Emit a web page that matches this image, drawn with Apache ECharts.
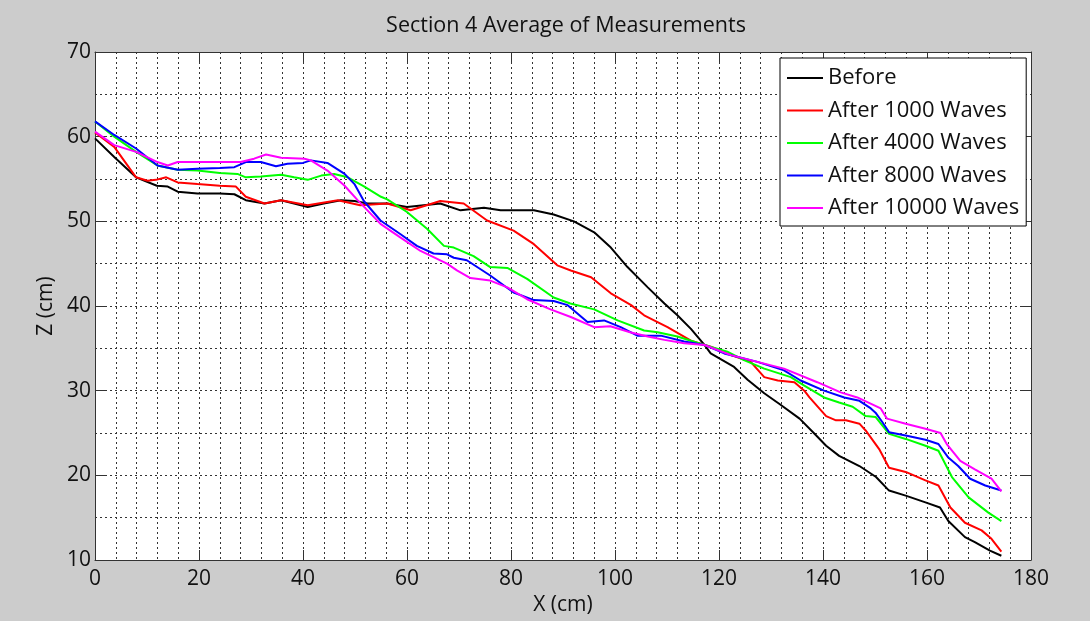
<!DOCTYPE html>
<html>
<head>
<meta charset="utf-8">
<script src="https://cdn.jsdelivr.net/npm/echarts@6/dist/echarts.min.js"></script>
<style>
html,body{margin:0;padding:0;background:#cccccc;}
#chart{width:1090px;height:621px;}
</style>
</head>
<body>
<div id="chart"></div>
<script>
// ---- data ----
var titleText = 'Section 4 Average of Measurements';
var seriesNames = ['Before', 'After 1000 Waves', 'After 4000 Waves', 'After 8000 Waves', 'After 10000 Waves'];
var seriesColors = ['#000000', '#ff0000', '#00ff00', '#0000ff', '#ff00ff'];
var xAxisName = 'X (cm)';
var yAxisName = 'Z (cm)';

var before = [[0,59.8],[3.7,57.6],[7.9,55.2],[11.9,54.2],[14,54.1],[15.9,53.5],[19.7,53.3],[24,53.3],[26.8,53.2],[29,52.5],[32.6,52.1],[35.8,52.5],[38.3,52.1],[40.9,51.7],[44,52.1],[47.3,52.5],[49.9,52.4],[52.4,52.1],[56.2,52.1],[60,51.7],[66.4,52.1],[70.3,51.3],[74.8,51.6],[78,51.3],[84.4,51.3],[88.2,50.8],[92.1,50.0],[96,48.7],[99.2,46.9],[102.4,44.6],[106.3,42.2],[109.5,40.3],[112,38.9],[114.6,37.3],[117.2,35.4],[118.4,34.4],[122.9,32.8],[125.5,31.3],[128.7,29.7],[131.7,28.4],[135.5,26.7],[138.7,24.7],[140.6,23.5],[143.1,22.3],[147,21.1],[150.2,19.8],[152.7,18.2],[155.9,17.6],[159.7,16.8],[162.5,16.2],[164.1,14.6],[167.3,12.7],[169.2,12.1],[172.1,11.1],[174.3,10.5]];

var after1000 = [[0,60.5],[3.7,58.8],[7.9,55.2],[10.1,54.8],[11.7,54.9],[13.7,55.2],[15.9,54.6],[19.7,54.4],[24,54.2],[27.1,54.1],[29,52.9],[32.6,52.1],[35.8,52.5],[40.9,51.9],[46.7,52.5],[51,51.9],[56.2,52.1],[60.7,51.3],[66.4,52.4],[70.9,52.1],[75.4,50.1],[80.5,48.9],[84.4,47.3],[88.9,44.8],[91.5,44.2],[95.4,43.4],[99.2,41.5],[103.1,40.1],[105.6,38.9],[110.1,37.5],[114.6,35.9],[118.4,35.2],[122.3,34.2],[126.1,33.4],[128.7,31.6],[131.3,31.2],[134.5,31.0],[136.4,30.0],[137.4,29.2],[140.6,27.0],[142.5,26.5],[144.4,26.5],[147,26.1],[148.2,25.3],[150.8,23.1],[152.7,20.9],[155.9,20.4],[159.7,19.4],[162.2,18.8],[164.5,16.2],[167.3,14.4],[170.5,13.5],[172.4,12.5],[174.3,11.0]];

var after4000 = [[0,61.8],[3.7,60],[7.9,58.2],[12,56.6],[15.9,56.1],[19.7,56.0],[24,55.7],[27.4,55.6],[29,55.2],[31.9,55.3],[35.8,55.5],[38.3,55.2],[40.9,54.9],[43.5,55.4],[46,55.6],[48.6,55.2],[51.8,54.1],[55,52.9],[56.2,52.6],[60,51.1],[63.9,49.1],[67.1,47.1],[69,46.9],[72.8,45.9],[76,44.6],[79.3,44.5],[83.1,43.2],[88.2,41.0],[91.4,40.3],[96,39.6],[100.5,38.3],[105.6,37.1],[108.2,36.9],[112,36.4],[117.2,35.4],[121.6,34.6],[124.8,33.6],[128.7,32.6],[133.8,31.6],[136.4,30.6],[140.2,29.2],[143.1,28.6],[145.7,28.1],[148.2,27.0],[150.1,26.9],[152.7,24.9],[155.9,24.3],[159.7,23.5],[162.2,22.9],[164.8,19.8],[168,17.4],[171.8,15.6],[174.3,14.6]];

var after8000 = [[0,61.8],[3.7,60.2],[7.9,58.6],[12,56.6],[15.9,56.1],[19.7,56.2],[24,56.3],[26.8,56.4],[29,57.0],[31.9,57.0],[34.8,56.5],[37,56.8],[40,56.9],[41.5,57.2],[44.7,56.9],[48,55.6],[49.9,54.4],[51.7,52.4],[54.9,50.1],[58.7,48.5],[61.9,47.1],[65.1,46.2],[67.7,46.1],[69,45.7],[71.5,45.4],[76,43.6],[80.5,41.6],[84.4,40.7],[88.2,40.6],[90.9,40.1],[94.7,38.1],[97.9,38.3],[101.1,37.5],[104.3,36.5],[108.8,36.5],[113.3,35.8],[117.2,35.4],[121,34.4],[127.4,33.4],[132.5,32.4],[135.7,31.2],[140.2,30.0],[144.1,29.2],[147,28.8],[149.2,27.9],[150.1,27.4],[151.4,26.3],[152.7,25.1],[155.9,24.7],[159.7,24.2],[162.2,23.7],[164.1,22.1],[166,21.1],[168.3,19.6],[171.2,18.8],[174.3,18.2]];

var after10000 = [[0,60.6],[3.7,59.0],[7.9,58.2],[12,57.0],[14,56.6],[15.9,57.0],[19.7,57.0],[24,57.0],[28,57.0],[30.6,57.4],[32.9,57.9],[35.8,57.5],[40.3,57.4],[41.5,57.2],[44.7,56.0],[48,54.2],[50.5,52.5],[54.9,49.7],[58.7,48.1],[62.6,46.5],[67.7,45.0],[69.6,44.2],[72.2,43.3],[76,43.0],[79.3,42.2],[83.1,40.8],[87.6,39.6],[91.5,38.7],[96,37.5],[99.1,37.6],[102.9,36.9],[106.3,36.4],[109.5,36.0],[113.3,35.6],[117.2,35.4],[122.3,34.2],[127.4,33.4],[132.5,32.6],[138.9,31.0],[143.4,29.8],[146.6,29.2],[151.1,27.9],[152.3,26.7],[155.9,26.1],[159.7,25.5],[162.6,25.0],[163.8,23.7],[166.4,21.7],[169.2,20.7],[172.4,19.6],[174.3,18.1]];

var xTicks = {min: 0, max: 180, interval: 20, minorSplit: 5};
var yTicks = {min: 10, max: 70, interval: 10, minorSplit: 2};

// ---- chart ----
var allData = [before, after1000, after4000, after8000, after10000];
var FONT = '"Open Sans", "Noto Sans", sans-serif';
var frameColor = '#333333';
var gridLine = {show: true, lineStyle: {color: '#333333', width: 1, type: [2, 3]}};

var chart = echarts.init(document.getElementById('chart'), null, {renderer: 'canvas'});

function baseAxis(t, extra) {
  return Object.assign({
    type: 'value',
    min: t.min, max: t.max, interval: t.interval,
    axisLine: {show: true, onZero: false, lineStyle: {color: frameColor, width: 1}},
    axisTick: {show: true, inside: true, length: 10, lineStyle: {color: frameColor, width: 1}},
    minorTick: {show: false, splitNumber: t.minorSplit},
    axisLabel: {show: false},
    splitLine: {show: false},
    minorSplitLine: {show: false}
  }, extra);
}

var option = {
  backgroundColor: '#cccccc',
  animation: false,
  textStyle: {fontFamily: FONT},
  title: {
    text: titleText,
    left: 561, top: 10,
    textAlign: 'center',
    textStyle: {fontFamily: FONT, fontSize: 21.5, fontWeight: 'normal', color: '#111111'}
  },
  grid: {left: 95, top: 52, right: 59, bottom: 61, show: true, backgroundColor: '#ffffff', borderWidth: 0, containLabel: false},
  legend: {
    orient: 'vertical',
    left: 780, top: 58,
    data: seriesNames,
    icon: 'rect',
    itemWidth: 36, itemHeight: 2, itemGap: 8.5,
    padding: [8, 7, 6, 7],
    backgroundColor: '#ffffff',
    borderColor: '#000000', borderWidth: 1, borderRadius: 0,
    textStyle: {fontFamily: FONT, fontSize: 22, color: '#111111', lineHeight: 24}
  },
  xAxis: [
    baseAxis(xTicks, {
      position: 'bottom',
      name: xAxisName, nameLocation: 'middle', nameGap: 35,
      nameTextStyle: {fontFamily: FONT, fontSize: 21, color: '#111111'},
      axisLabel: {show: true, margin: 9, fontFamily: FONT, fontSize: 21, color: '#111111'},
      splitLine: gridLine,
      minorSplitLine: gridLine
    }),
    baseAxis(xTicks, {position: 'top'})
  ],
  yAxis: [
    baseAxis(yTicks, {
      position: 'left',
      name: yAxisName, nameLocation: 'middle', nameGap: 37, nameRotate: 90,
      nameTextStyle: {fontFamily: FONT, fontSize: 21, color: '#111111'},
      axisLabel: {show: true, margin: 4, fontFamily: FONT, fontSize: 21, color: '#111111'},
      splitLine: gridLine,
      minorSplitLine: gridLine
    }),
    baseAxis(yTicks, {position: 'right'})
  ],
  series: seriesNames.map(function (n, i) {
    return {
      name: n, type: 'line',
      xAxisIndex: 0, yAxisIndex: 0,
      data: allData[i],
      symbol: 'none', showSymbol: false,
      smooth: false,
      color: seriesColors[i],
      lineStyle: {color: seriesColors[i], width: 2},
      itemStyle: {color: seriesColors[i]},
      z: 3 + i
    };
  })
};
chart.setOption(option);
</script>
</body>
</html>
